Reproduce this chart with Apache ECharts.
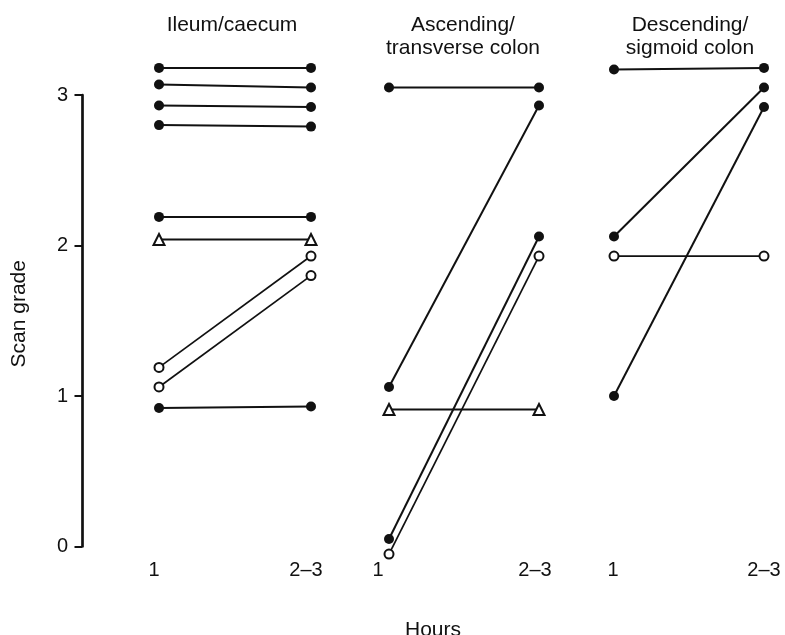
<!DOCTYPE html>
<html>
<head>
<meta charset="utf-8">
<script src="https://cdn.jsdelivr.net/npm/echarts@6/dist/echarts.min.js"></script>
<style>
html,body{margin:0;padding:0;background:#fff;}
#chart{width:785px;height:635px;}
</style>
</head>
<body>
<div id="chart"></div>
<script>
// ---- data ----
const panelTitles = ['Ileum/caecum', 'Ascending/\ntransverse colon', 'Descending/\nsigmoid colon'];
const xTickLabels = ['1', '2\u20133'];
const yTickValues = [0, 1, 2, 3];
const yAxisName = 'Scan grade';
const xAxisName = 'Hours';

// Ileum/caecum: scan grade at 1 h and 2–3 h
const ileumStart = [3.18, 3.07, 2.93, 2.80, 2.19, 2.04, 1.19, 1.06, 0.92];
const ileumEnd   = [3.18, 3.05, 2.92, 2.79, 2.19, 2.04, 1.93, 1.80, 0.93];
const ileumMarks = ['filled', 'filled', 'filled', 'filled', 'filled', 'triangle', 'open', 'open', 'filled'];

// Ascending/transverse colon
const ascStart = [3.05, 1.06, 0.05, -0.05, 0.91];
const ascEnd   = [3.05, 2.93, 2.06, 1.93, 0.91];
const ascMarks = ['filled', 'filled', 'filled', 'open', 'triangle'];

// Descending/sigmoid colon
const descStart = [3.17, 2.06, 1.00, 1.93];
const descEnd   = [3.18, 3.05, 2.92, 1.93];
const descMarks = ['filled', 'filled', 'filled', 'open'];

const panels = [
  {start: ileumStart, end: ileumEnd, marks: ileumMarks},
  {start: ascStart, end: ascEnd, marks: ascMarks},
  {start: descStart, end: descEnd, marks: descMarks}
];

// ---- layout / style ----
const FONT = "'Liberation Sans', Arial, Helvetica, sans-serif";
const INK = '#111';
const px1 = [159, 389, 614];      // pixel of x=1 per panel
const px2 = [311, 539, 764];      // pixel of x=2 (2–3 h) per panel
const labelShift = [[-5, -5], [-11, -4], [-1, 0]];
const titleCenters = [227, 458, 685];
const gridTop = 95, gridBottom = 88.5;

const chart = echarts.init(document.getElementById('chart'), null, {renderer: 'canvas'});

const grids = [], xAxes = [], yAxes = [], series = [];
panels.forEach((p, k) => {
  grids.push({left: px1[k], width: px2[k] - px1[k], top: gridTop, bottom: gridBottom, containLabel: false});
  const rich = {};
  xTickLabels.forEach((t, j) => {
    const s = labelShift[k][j];
    rich['l' + j] = {
      fontFamily: FONT, fontSize: 20, color: INK,
      padding: s < 0 ? [0, -2 * s, 0, 0] : [0, 0, 0, 2 * s]
    };
  });
  xAxes.push({
    type: 'value', gridIndex: k, min: 1, max: 2, interval: 1,
    axisLine: {show: false}, axisTick: {show: false}, splitLine: {show: false},
    axisLabel: {
      show: true, margin: 14,
      formatter: v => { const j = Math.round(v) - 1; return '{l' + j + '|' + xTickLabels[j] + '}'; },
      rich: rich
    }
  });
  yAxes.push({
    type: 'value', gridIndex: k, min: 0, max: 3, interval: 1,
    show: k === 0,
    position: 'left',
    offset: k === 0 ? px1[0] - 82 : 0,
    name: k === 0 ? yAxisName : '',
    nameLocation: 'middle', nameGap: 52, nameRotate: 90,
    nameTextStyle: {fontFamily: FONT, fontSize: 21, color: INK, padding: [0, 0, 0, 14]},
    axisLine: {show: true, lineStyle: {color: INK, width: 2.7}},
    axisTick: {show: true, length: 7.5, lineStyle: {color: INK, width: 2}},
    axisLabel: {show: true, margin: 14, fontFamily: FONT, fontSize: 20, color: INK,
      formatter: v => yTickValues.includes(v) ? String(v) : ''},
    splitLine: {show: false}
  });
  p.start.forEach((s, i) => {
    const m = p.marks[i];
    let symbol = 'circle', size = 10, item = {color: INK, borderColor: INK, borderWidth: 0};
    if (m === 'open') { symbol = 'emptyCircle'; size = 9; item = {color: INK, borderColor: INK, borderWidth: 1.8}; }
    if (m === 'triangle') { symbol = 'emptyTriangle'; size = 11; item = {color: INK, borderColor: INK, borderWidth: 2}; }
    series.push({
      type: 'line', xAxisIndex: k, yAxisIndex: k,
      data: [[1, s], [2, p.end[i]]],
      symbol: symbol, symbolSize: size, showSymbol: true,
      lineStyle: {color: INK, width: m === 'open' ? 1.7 : 2},
      itemStyle: item, clip: false, silent: true, animation: false,
      emphasis: {disabled: true}
    });
  });
});

const titles = panelTitles.map((t, k) => ({
  text: t, left: titleCenters[k], top: 9, textAlign: 'center',
  textStyle: {fontFamily: FONT, fontSize: 21, fontWeight: 'normal', color: INK, lineHeight: 23}
}));
titles.push({
  text: xAxisName, left: 428, top: 615, textAlign: 'center',
  textStyle: {fontFamily: FONT, fontSize: 21, fontWeight: 'normal', color: INK, lineHeight: 21}
});

chart.setOption({
  backgroundColor: '#fff',
  animation: false,
  title: titles,
  grid: grids,
  xAxis: xAxes,
  yAxis: yAxes,
  series: series
});
</script>
</body>
</html>
